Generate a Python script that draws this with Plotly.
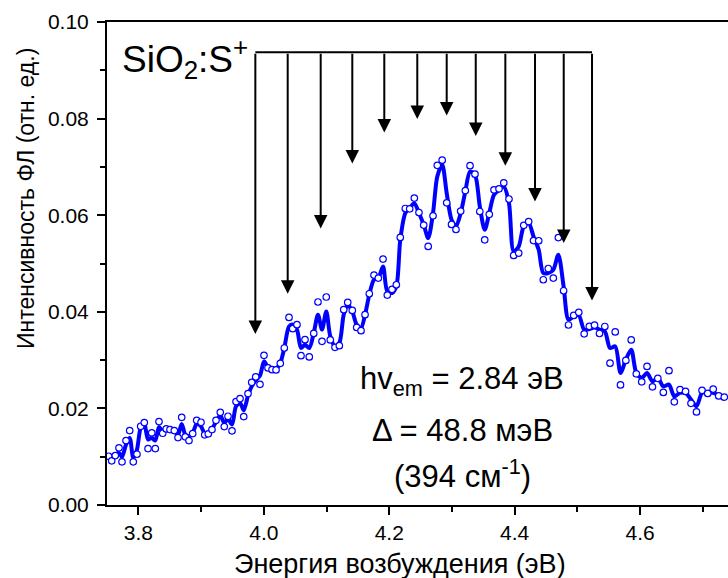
import plotly.graph_objects as go

# Excitation energy of each measured point (eV)
energy = [
    3.7527, 3.7575, 3.7632, 3.7691, 3.7739, 3.7803, 3.7862, 3.7919, 3.7978, 3.8037,
    3.8095, 3.8154, 3.8213, 3.8270, 3.8329, 3.8388, 3.8445, 3.8504, 3.8573, 3.8632,
    3.8691, 3.8748, 3.8807, 3.8866, 3.8930, 3.8999, 3.9058, 3.9115, 3.9174, 3.9238,
    3.9306, 3.9370, 3.9429, 3.9493, 3.9557, 3.9621, 3.9680, 3.9748, 3.9807, 3.9871,
    3.9939, 4.0003, 4.0067, 4.0131, 4.0195, 4.0263, 4.0327, 4.0402, 4.0461, 4.0529,
    4.0593, 4.0657, 4.0725, 4.0796, 4.0864, 4.0928, 4.0996, 4.1060, 4.1135, 4.1204,
    4.1274, 4.1338, 4.1411, 4.1481, 4.1550, 4.1614, 4.1682, 4.1757, 4.1826, 4.1901,
    4.1969, 4.2044, 4.2113, 4.2176, 4.2256, 4.2326, 4.2400, 4.2474, 4.2549, 4.2621,
    4.2698, 4.2766, 4.2844, 4.2916, 4.2993, 4.3064, 4.3139, 4.3213, 4.3288, 4.3367,
    4.3444, 4.3522, 4.3595, 4.3670, 4.3750, 4.3826, 4.3909, 4.3984, 4.4064, 4.4144,
    4.4223, 4.4300, 4.4383, 4.4456, 4.4536, 4.4616, 4.4696, 4.4780, 4.4858, 4.4941,
    4.5022, 4.5108, 4.5190, 4.5273, 4.5352, 4.5437, 4.5520, 4.5603, 4.5687, 4.5772,
    4.5858, 4.5939, 4.6025, 4.6110, 4.6197, 4.6282, 4.6370, 4.6460, 4.6545, 4.6636,
    4.6724, 4.6811, 4.6899, 4.6987, 4.7078, 4.7165, 4.7253, 4.7342,
]

# Measured PL intensity (arb. units)
intensity = [
    0.01009, 0.00914, 0.01024, 0.01183, 0.00893, 0.01334, 0.01541, 0.00893, 0.01051, 0.01630,
    0.01706, 0.01169, 0.01493, 0.01169, 0.01727, 0.01485, 0.01576, 0.01562, 0.01541, 0.01396,
    0.01816, 0.01411, 0.01334, 0.01479, 0.01754, 0.01713, 0.01452, 0.01473, 0.01562, 0.01754,
    0.01919, 0.01624, 0.01837, 0.01535, 0.02141, 0.02203, 0.01830, 0.02306, 0.02540, 0.02651,
    0.02498, 0.03098, 0.02838, 0.02802, 0.02796, 0.02933, 0.03251, 0.03884, 0.03651, 0.03733,
    0.03092, 0.03423, 0.03065, 0.03553, 0.04203, 0.03388, 0.04306, 0.03417, 0.03264, 0.03299,
    0.04043, 0.04194, 0.04029, 0.03677, 0.03609, 0.03940, 0.04374, 0.04761, 0.04699, 0.05092,
    0.04347, 0.04463, 0.04560, 0.05539, 0.06139, 0.06132, 0.06354, 0.06056, 0.05795, 0.05353,
    0.05988, 0.07032, 0.07140, 0.06257, 0.05808, 0.05704, 0.06085, 0.06509, 0.07026, 0.06850,
    0.06077, 0.05491, 0.06019, 0.06525, 0.06546, 0.06670, 0.06335, 0.05167, 0.05216, 0.05791,
    0.05868, 0.05475, 0.05471, 0.04664, 0.04896, 0.04699, 0.05537, 0.04436, 0.03727, 0.03924,
    0.03990, 0.03543, 0.03698, 0.03723, 0.03551, 0.03696, 0.02937, 0.03584, 0.02486, 0.02993,
    0.03417, 0.02716, 0.02550, 0.02869, 0.02447, 0.02623, 0.02331, 0.02782, 0.02137, 0.02389,
    0.02352, 0.02106, 0.01928, 0.02374, 0.02310, 0.02399, 0.02259, 0.02232,
]

# Smoothed spectrum at the same energies
smoothed = [
    0.00956, 0.00976, 0.01044, 0.01080, 0.00997, 0.01251, 0.01390, 0.00976, 0.01148, 0.01597,
    0.01686, 0.01355, 0.01390, 0.01334, 0.01617, 0.01526, 0.01547, 0.01547, 0.01526, 0.01458,
    0.01679, 0.01458, 0.01423, 0.01493, 0.01679, 0.01630, 0.01479, 0.01506, 0.01576, 0.01721,
    0.01851, 0.01700, 0.01783, 0.01665, 0.02043, 0.02114, 0.01961, 0.02265, 0.02457, 0.02581,
    0.02678, 0.02974, 0.02850, 0.02803, 0.02817, 0.02941, 0.03251, 0.03698, 0.03733, 0.03630,
    0.03251, 0.03320, 0.03251, 0.03562, 0.03940, 0.03630, 0.04008, 0.03491, 0.03284, 0.03355,
    0.03940, 0.04147, 0.04008, 0.03733, 0.03665, 0.03940, 0.04354, 0.04664, 0.04699, 0.04939,
    0.04422, 0.04389, 0.04525, 0.05491, 0.06044, 0.06147, 0.06250, 0.06044, 0.05802, 0.05527,
    0.06044, 0.06801, 0.07043, 0.06457, 0.05905, 0.05766, 0.06044, 0.06490, 0.06904, 0.06836,
    0.06180, 0.05698, 0.06044, 0.06422, 0.06525, 0.06594, 0.06250, 0.05249, 0.05353, 0.05766,
    0.05837, 0.05560, 0.05284, 0.04803, 0.04803, 0.04871, 0.05181, 0.04525, 0.03837, 0.03905,
    0.03926, 0.03630, 0.03644, 0.03677, 0.03630, 0.03595, 0.03251, 0.03284, 0.02734, 0.03009,
    0.03216, 0.02734, 0.02631, 0.02734, 0.02561, 0.02631, 0.02457, 0.02492, 0.02250, 0.02321,
    0.02321, 0.02182, 0.02043, 0.02321, 0.02333, 0.02321, 0.02271, 0.02217,
]

# Vibronic replica positions (eV) and where each marker arrow ends
replica_energy = [3.9865, 4.0381, 4.0907, 4.1411, 4.1921, 4.2447,
                  4.2916, 4.3379, 4.3851, 4.4324, 4.4782, 4.5233]
replica_tip = [0.03541, 0.04374, 0.05725, 0.07069, 0.07711, 0.07994,
               0.08062, 0.07642, 0.07022, 0.06283, 0.05423, 0.04236]
comb_level = 0.09374

x_ticks = [3.8, 4.0, 4.2, 4.4, 4.6]
y_ticks = [0.00, 0.02, 0.04, 0.06, 0.08, 0.10]

FONT = "Liberation Sans, Arial, sans-serif"
BLUE = "#0000FF"

fig = go.Figure()

fig.add_trace(go.Scatter(
    x=energy, y=smoothed, mode="lines",
    line=dict(color=BLUE, width=4, shape="spline", smoothing=0.8),
    hoverinfo="skip", showlegend=False,
))
fig.add_trace(go.Scatter(
    x=energy, y=intensity, mode="markers",
    marker=dict(symbol="circle", size=6.5, color="white",
                line=dict(color=BLUE, width=1.2)),
    showlegend=False,
))

# Horizontal comb joining the replica arrows
fig.add_shape(type="line", xref="x", yref="y",
              x0=replica_energy[0], x1=replica_energy[-1],
              y0=comb_level, y1=comb_level,
              line=dict(color="black", width=2))

annotations = []
for e, tip in zip(replica_energy, replica_tip):
    annotations.append(dict(
        x=e, y=tip, ax=e, ay=comb_level, xref="x", yref="y",
        axref="x", ayref="y", text="", showarrow=True,
        arrowhead=2, arrowsize=1.35, arrowwidth=2, arrowcolor="black",
        standoff=0, startstandoff=0,
    ))

annotations += [
    dict(x=3.7707, y=0.0925, xref="x", yref="y", xanchor="left", yanchor="middle",
         text="SiO<sub>2</sub>:S<sup>+</sup>", showarrow=False,
         font=dict(family=FONT, size=37, color="black")),
    dict(x=4.316, y=0.0257, xref="x", yref="y", xanchor="center", yanchor="middle",
         text="hv<sub>em</sub> = 2.84 эВ", showarrow=False,
         font=dict(family=FONT, size=31, color="black")),
    dict(x=4.316, y=0.0155, xref="x", yref="y", xanchor="center", yanchor="middle",
         text="Δ = 48.8 мэВ", showarrow=False,
         font=dict(family=FONT, size=31, color="black")),
    dict(x=4.316, y=0.0064, xref="x", yref="y", xanchor="center", yanchor="middle",
         text="(394 см<sup>-1</sup>)", showarrow=False,
         font=dict(family=FONT, size=31, color="black")),
    dict(x=-0.13, y=0.634, xref="paper", yref="paper", xanchor="center", yanchor="middle",
         text="Интенсивность ФЛ (отн. ед.)", textangle=-90, showarrow=False,
         font=dict(family=FONT, size=23, color="black")),
    dict(x=0.472, y=-0.123, xref="paper", yref="paper", xanchor="center", yanchor="middle",
         text="Энергия возбуждения (эВ)", showarrow=False,
         font=dict(family=FONT, size=27, color="black")),
]

fig.update_layout(
    width=728, height=578,
    margin=dict(l=107, r=0, t=22, b=73),
    paper_bgcolor="white", plot_bgcolor="white",
    font=dict(family=FONT, size=21, color="black"),
    annotations=annotations,
    showlegend=False,
)

fig.update_xaxes(
    range=[3.75, 4.7401], tickvals=x_ticks, ticktext=[f"{v:.1f}" for v in x_ticks],
    ticks="outside", ticklen=8, tickwidth=1.5, tickcolor="black",
    minor=dict(dtick=0.1, tick0=3.8, ticks="outside", ticklen=5, tickwidth=1.5, tickcolor="black"),
    showline=True, linewidth=2, linecolor="black", mirror=True,
    showgrid=False, zeroline=False, automargin=False,
    tickfont=dict(family=FONT, size=21, color="black"),
)
fig.update_yaxes(
    range=[0, 0.1], tickvals=y_ticks, ticktext=[f"{v:.2f}" for v in y_ticks],
    ticks="outside", ticklen=8, tickwidth=1.5, tickcolor="black",
    minor=dict(dtick=0.01, tick0=0, ticks="outside", ticklen=5, tickwidth=1.5, tickcolor="black"),
    showline=True, linewidth=2, linecolor="black", mirror=False,
    showgrid=False, zeroline=False, automargin=False, ticklabelstandoff=4,
    tickfont=dict(family=FONT, size=21, color="black"),
)

fig.write_html("out.html")
